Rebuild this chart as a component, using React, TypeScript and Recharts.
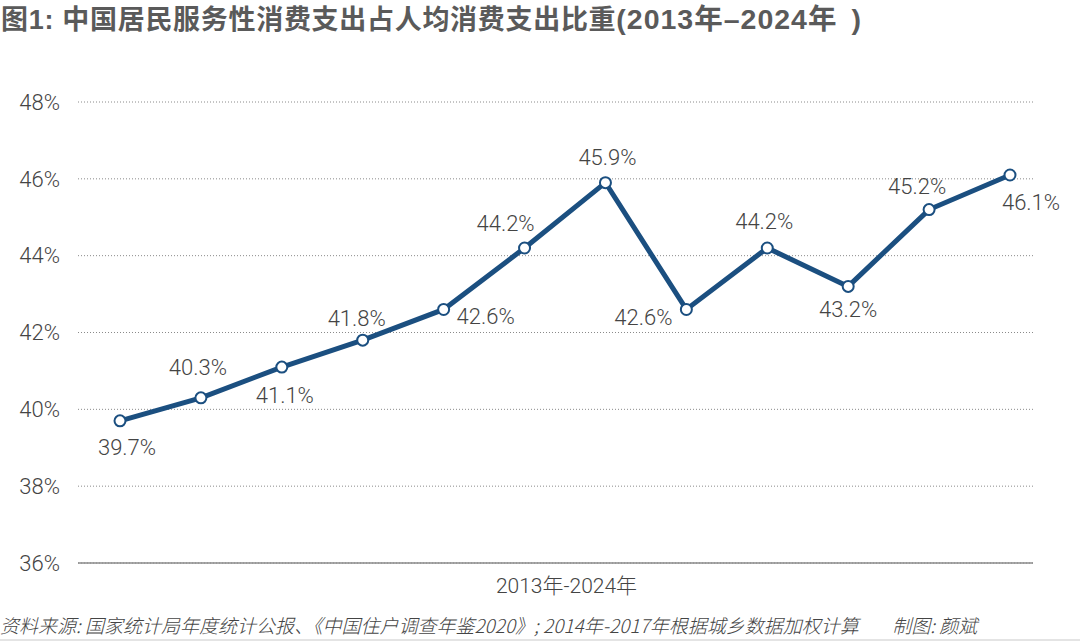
import React from 'react';
import { LineChart, Line, XAxis, YAxis, CartesianGrid, LabelList } from 'recharts';

const years = ['2013', '2014', '2015', '2016', '2017', '2018', '2019', '2020', '2021', '2022', '2023', '2024'];
const shares = [39.7, 40.3, 41.1, 41.8, 42.6, 44.2, 45.9, 42.6, 44.2, 43.2, 45.2, 46.1];
const yTicks = [36, 38, 40, 42, 44, 46, 48];

const data = years.map((year, i) => ({ year, share: shares[i] }));

// where each value label sits relative to its point
const labelShift: [number, number][] = [
  [7, 27], [-3, -30], [3, 28], [-6, -22], [42, 7], [-19, -24],
  [2, -25], [-43, 8], [-3, -26], [0, 23], [-12, -23], [21, 28],
];

const LINE_BLUE = '#1b4f80';
const TEXT = '#444444';
const FONT = "Roboto, 'Noto Sans CJK SC', sans-serif";

const ValueLabel = (props: any) => {
  const { x, y, index, value } = props;
  const [dx, dy] = labelShift[index] || [0, -20];
  return (
    <text
      x={x + dx}
      y={y + dy}
      textAnchor="middle"
      dominantBaseline="central"
      fill={TEXT}
      fontSize={22}
      fontWeight={300}
      fontFamily={FONT}
    >
      {`${Number(value).toFixed(1)}%`}
    </text>
  );
};

const App = () => {
  return (
    <div style={{ position: 'absolute', left: 0, top: 0, width: 1080, height: 641, background: '#fff', overflow: 'hidden' }}>
      <div
        style={{
          position: 'absolute',
          left: 1,
          top: 1,
          fontFamily: "'Liberation Sans', 'Noto Sans CJK SC', sans-serif",
          fontWeight: 700,
          fontSize: 27,
          letterSpacing: 0.7,
          color: '#5a5a5a',
          whiteSpace: 'nowrap',
          lineHeight: '36px',
        }}
      >
        图1: 中国居民服务性消费支出占人均消费支出比重
        <span style={{ fontSize: 28.5, letterSpacing: 1 }}>
          (2013年–2024年<span style={{ marginLeft: 14 }}>)</span>
        </span>
      </div>

      <div style={{ position: 'absolute', left: 0, top: 0 }}>
        <LineChart width={1080} height={641} data={data} margin={{ top: 102, right: 47, bottom: 40, left: 0 }}>
          <CartesianGrid vertical={false} stroke="#8a8a8a" strokeDasharray="1 2" />
          <XAxis
            dataKey="year"
            tick={false}
            tickLine={false}
            padding={{ left: 42, right: 23 }}
            axisLine={{ stroke: '#8a8a8a', strokeWidth: 1.5 }}
            height={38}
            label={{
              value: '2013年-2024年',
              position: 'insideBottom',
              offset: 8,
              fill: TEXT,
              fontSize: 21,
              fontWeight: 300,
              fontFamily: FONT,
              dx: 11,
            }}
          />
          <YAxis
            domain={[36, 48]}
            ticks={yTicks}
            width={78}
            axisLine={false}
            tickLine={false}
            tickSize={0}
            tickMargin={18}
            tickFormatter={(v: number) => `${v}%`}
            tick={{ fill: TEXT, fontSize: 22, fontWeight: 300, fontFamily: FONT }}
          />
          <Line
            type="linear"
            dataKey="share"
            stroke={LINE_BLUE}
            strokeWidth={5}
            dot={{ r: 5.5, fill: '#fff', stroke: LINE_BLUE, strokeWidth: 2 }}
            activeDot={false}
            isAnimationActive={false}
          >
            <LabelList dataKey="share" content={ValueLabel} />
          </Line>
        </LineChart>
      </div>

      <div
        style={{
          position: 'absolute',
          left: 0,
          top: 612,
          fontFamily: "'Noto Sans CJK SC', sans-serif",
          fontStyle: 'italic',
          fontWeight: 300,
          fontSize: 19,
          color: TEXT,
          whiteSpace: 'pre',
          lineHeight: '26px',
        }}
      >
        {'资料来源: 国家统计局年度统计公报、《中国住户调查年鉴2020》; 2014年-2017年根据城乡数据加权计算        制图: 颜斌'}
      </div>
      <div style={{ position: 'absolute', left: 0, top: 639, width: 1080, height: 2, background: '#e4e4e4' }} />
    </div>
  );
};

export default App;
